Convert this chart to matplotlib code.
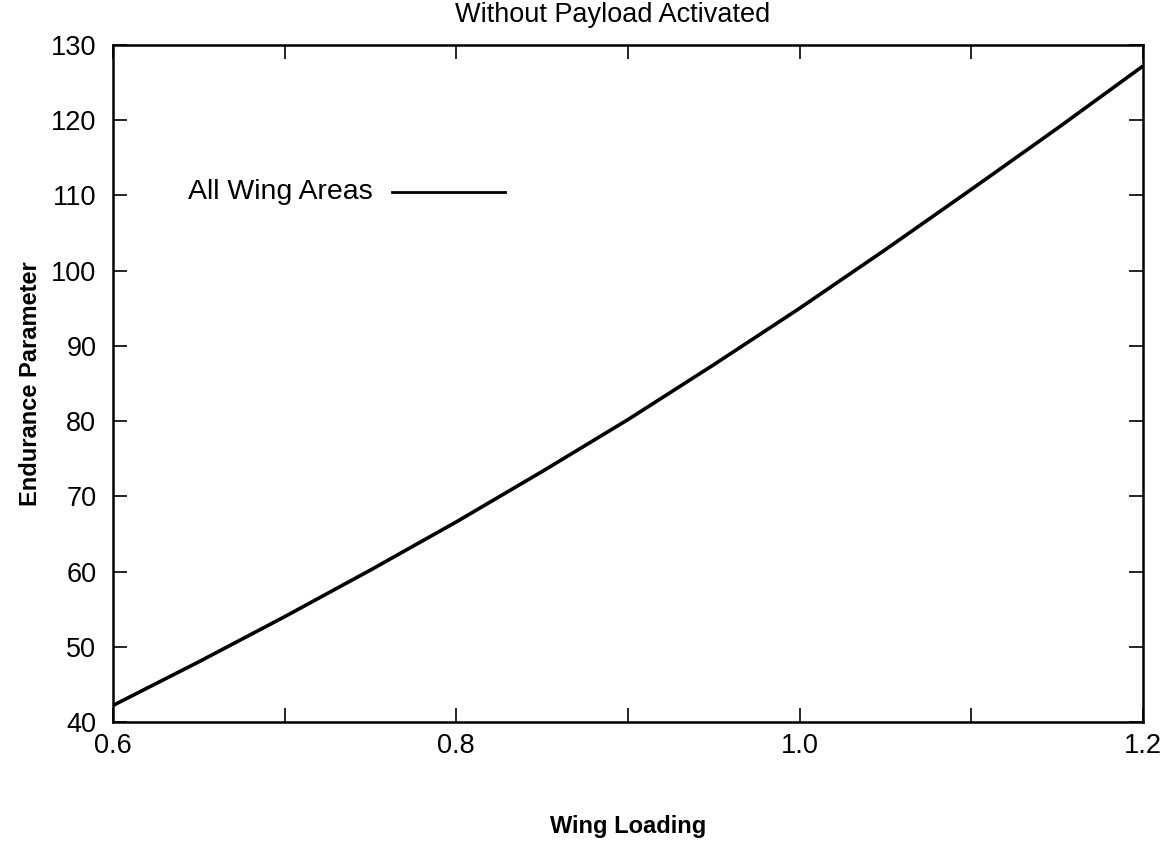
import matplotlib
matplotlib.use("Agg")
import matplotlib.pyplot as plt

plt.rcParams["font.family"] = ["Liberation Sans", "DejaVu Sans"]

# data
wing_loading = [0.60, 0.65, 0.70, 0.75, 0.80, 0.85, 0.90, 0.95, 1.00, 1.05, 1.10, 1.15, 1.20]
endurance = [42.2, 48.0, 54.0, 60.2, 66.6, 73.3, 80.2, 87.5, 95.0, 102.8, 110.8, 118.9, 127.2]

x_ticks = [0.6, 0.7, 0.8, 0.9, 1.0, 1.1, 1.2]
x_tick_labels = ["0.6", "", "0.8", "", "1.0", "", "1.2"]
y_ticks = [40, 50, 60, 70, 80, 90, 100, 110, 120, 130]

fig = plt.figure(figsize=(11.62, 8.57), dpi=100)
ax = fig.add_axes([0.0972, 0.1575, 0.8864, 0.79])

ax.plot(wing_loading, endurance, color="black", linewidth=2.6, solid_capstyle="butt")

ax.set_xlim(0.6, 1.2)
ax.set_ylim(40, 130)
ax.set_xticks(x_ticks)
ax.set_xticklabels(x_tick_labels)
ax.set_yticks(y_ticks)

for side in ["left", "right", "top", "bottom"]:
    ax.spines[side].set_linewidth(1.8)

ax.tick_params(direction="in", length=10, width=1.2, top=True, right=True,
               labelsize=19.5, colors="black")
ax.tick_params(axis="x", pad=8)
ax.tick_params(axis="y", pad=12)

ax.set_xlabel("Wing Loading", fontsize=17, fontweight="bold", labelpad=40)
ax.set_ylabel("Endurance Parameter", fontsize=17, fontweight="bold", labelpad=6)

fig.text(613 / 1162, 1 - 15 / 857, "Without Payload Activated", fontsize=19.5,
         ha="center", va="center")

# legend drawn by hand like the original
ax.text(0.0728, 0.783, "All Wing Areas", fontsize=20.5, ha="left", va="center",
        transform=ax.transAxes)
ax.plot([0.271, 0.381], [0.783, 0.783], color="black", linewidth=2.0,
        transform=ax.transAxes)

fig.savefig("out.png", dpi=100)
